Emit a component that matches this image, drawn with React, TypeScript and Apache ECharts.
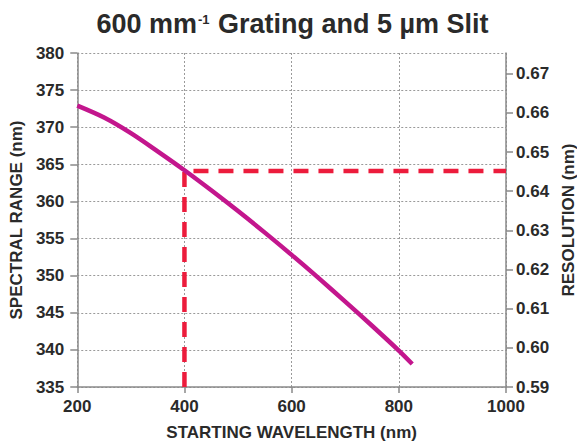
import React, { useEffect, useRef } from "react";
import * as echarts from "echarts";

const wavelength = [200, 250, 300, 350, 400, 450, 500, 550, 600, 650, 700, 750, 800, 825];
const spectralRange = [372.9, 371.3, 369.2, 366.75, 364.2, 361.5, 358.7, 355.8, 352.8, 349.7, 346.5, 343.25, 339.9, 338.1];
const guideX = [400, 400, 1000];
const guideY = [335, 364.1, 364.1];
const resolutionTicks = [0.59, 0.6, 0.61, 0.62, 0.63, 0.64, 0.65, 0.66, 0.67];
const xTicks = [200, 400, 600, 800, 1000];

const FONT = "'Liberation Sans', Arial, Helvetica, sans-serif";
const TXT = "#2a2a2a";
const AX = "#8a8a8a";
const GRIDC = "#9a9a9a";

export default function App() {
  const ref = useRef<HTMLDivElement>(null);
  useEffect(() => {
    if (!ref.current) return;
    const chart = echarts.init(ref.current, null, { renderer: "svg" });
    const nameStyle = { fontFamily: FONT, fontSize: 17, fontWeight: "bold", color: TXT };
    const labelStyle = { fontFamily: FONT, fontSize: 17, fontWeight: "bold", color: TXT };
    chart.setOption({
      animation: false,
      backgroundColor: "#ffffff",
      title: {
        text: "{a|600 mm}{s|-1}{a| Grating and 5 µm Slit}",
        left: "center",
        top: 4,
        textStyle: {
          rich: {
            a: { fontFamily: FONT, fontSize: 27, fontWeight: "bold", color: TXT, lineHeight: 30 },
            s: { fontFamily: FONT, fontSize: 13, fontWeight: "bold", color: TXT, lineHeight: 30, padding: [0, 1, 10, 1] },
          },
        },
      },
      grid: { left: 77, right: 77, top: 53, bottom: 58 },
      xAxis: {
        type: "value",
        min: 200,
        max: 1000,
        interval: 200,
        name: "STARTING WAVELENGTH (nm)",
        nameLocation: "middle",
        nameGap: 37,
        nameTextStyle: nameStyle,
        axisLine: { lineStyle: { color: AX, width: 1.5 } },
        axisTick: { show: true, length: 6, lineStyle: { color: AX, width: 1.5 } },
        axisLabel: { ...labelStyle, margin: 11, customValues: xTicks, formatter: (v: number) => String(v) },
        splitLine: { show: true, lineStyle: { color: GRIDC, type: [2, 2], width: 1 } },
      },
      yAxis: [
        {
          type: "value",
          min: 335,
          max: 380,
          interval: 5,
          name: "SPECTRAL RANGE (nm)",
          nameLocation: "middle",
          nameGap: 51,
          nameRotate: 90,
          nameTextStyle: nameStyle,
          axisLine: { show: true, lineStyle: { color: AX, width: 1.5 } },
          axisTick: { show: true, length: 7, lineStyle: { color: AX, width: 1.5 } },
          axisLabel: { ...labelStyle, margin: 13 },
          splitLine: { show: true, lineStyle: { color: GRIDC, type: [2, 2], width: 1 } },
        },
        {
          type: "value",
          position: "right",
          min: 0.59,
          max: 0.6753,
          interval: 0.01,
          name: "RESOLUTION (nm)",
          nameLocation: "middle",
          nameGap: 54,
          nameRotate: 90,
          nameTextStyle: nameStyle,
          axisLine: { show: true, lineStyle: { color: AX, width: 1.5 } },
          axisTick: { show: true, length: 7, lineStyle: { color: AX, width: 1.5 }, customValues: resolutionTicks },
          axisLabel: {
            ...labelStyle,
            margin: 10,
            customValues: resolutionTicks,
            formatter: (v: number) => v.toFixed(2),
          },
          splitLine: { show: false },
        },
      ],
      series: [
        {
          type: "line",
          yAxisIndex: 0,
          data: guideX.map((x, i) => [x, guideY[i]]),
          showSymbol: false,
          symbol: "none",
          lineStyle: { color: "#EC1C3C", width: 4.5, type: [15, 10] },
          z: 2,
        },
        {
          type: "line",
          yAxisIndex: 0,
          data: wavelength.map((x, i) => [x, spectralRange[i]]),
          smooth: 0.3,
          showSymbol: false,
          symbol: "none",
          lineStyle: { color: "#C3168D", width: 4.5 },
          z: 3,
        },
      ],
    });
    return () => chart.dispose();
  }, []);
  return <div ref={ref} style={{ width: 585, height: 446, marginLeft: -8, marginTop: -8 }} />;
}
